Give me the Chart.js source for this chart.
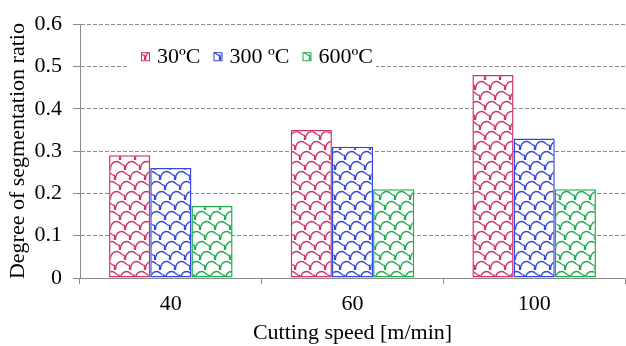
<!DOCTYPE html>
<html>
<head>
<meta charset="utf-8">
<script src="https://cdn.jsdelivr.net/npm/chart.js@4.4.1/dist/chart.umd.min.js"></script>
<style>
  html, body { margin: 0; padding: 0; background: #fff; }
  #chart { display: block; }
</style>
</head>
<body>
<canvas id="chart" width="626" height="346"></canvas>
<script>
// values
const speeds = ['40', '60', '100'];
const series = ['30ºC', '300 ºC', '600ºC'];
const t30 = [0.29, 0.35, 0.48];
const t300 = [0.26, 0.31, 0.33];
const t600 = [0.17, 0.21, 0.21];
const colors = ['#d0336e', '#3448e0', '#1fae4f'];

const FONT = "'Liberation Serif', 'DejaVu Serif', serif";

// shingle-like hatch used by the bars, rows step sideways, white ground
function shingle(color) {
    const W = 15, H = 10, ROWS = 3, STEP = 5;
    const c = document.createElement('canvas');
    c.width = W;
    c.height = H * ROWS;
    const g = c.getContext('2d');
    g.fillStyle = '#fff';
    g.fillRect(0, 0, c.width, c.height);
    g.strokeStyle = color;
    g.lineWidth = 1.3;
    function piece(x0, y0) {
        g.moveTo(x0 + 0.5, y0 + 10);
        g.bezierCurveTo(x0 + 0.5, y0 + 4, x0 + 3, y0 + 1.5, x0 + 7, y0 + 1.5);
        g.bezierCurveTo(x0 + 10, y0 + 1.5, x0 + 11.5, y0 + 5.5, x0 + 14.5, y0 + 5.5);
        g.lineTo(x0 + 14.5, y0 + 10);
    }
    g.beginPath();
    for (let r = 0; r < ROWS; r++) {
        const sx = (r * STEP) % W;
        piece(sx - W, r * H);
        piece(sx, r * H);
    }
    g.stroke();
    return g.createPattern(c, 'repeat');
}

function ds(label, data, i) {
    return {
        label: label,
        data: data,
        backgroundColor: shingle(colors[i]),
        borderColor: colors[i],
        borderWidth: 1.5,
        borderSkipped: false,
        categoryPercentage: 0.68,
        barPercentage: 1.0
    };
}

// legend sits inside the plot on a white box
const boxLegend = {
    id: 'boxLegend',
    afterDraw(chart) {
        const ctx = chart.ctx;
        const a = chart.chartArea;
        ctx.save();
        ctx.fillStyle = '#fff';
        ctx.fillRect(a.left + 47, a.top + 17, 249, 31);
        ctx.font = '22px ' + FONT;
        ctx.textBaseline = 'middle';
        let x = a.left + 61;
        const y = a.top + 32;
        chart.data.datasets.forEach(function (d) {
            ctx.fillStyle = d.backgroundColor;
            ctx.fillRect(x, y - 4, 8, 8);
            ctx.strokeStyle = d.borderColor;
            ctx.lineWidth = 1;
            ctx.strokeRect(x + 0.5, y - 3.5, 8, 8);
            x += 16;
            ctx.fillStyle = '#000';
            ctx.fillText(d.label, x, y + 1);
            x += ctx.measureText(d.label).width + 13;
        });
        ctx.restore();
    }
};

new Chart(document.getElementById('chart').getContext('2d'), {
    type: 'bar',
    data: {
        labels: speeds,
        datasets: [ds(series[0], t30, 0), ds(series[1], t300, 1), ds(series[2], t600, 2)]
    },
    options: {
        responsive: false,
        animation: false,
        layout: {
            padding: { top: 19, right: 1, left: 0, bottom: 0 }
        },
        scales: {
            x: {
                afterFit: function (s) { s.height = 68; },
                grid: {
                    offset: true,
                    drawOnChartArea: false,
                    tickLength: 6,
                    color: '#8a8a8a'
                },
                border: { color: '#8a8a8a', width: 1 },
                ticks: {
                    padding: 7,
                    color: '#000',
                    font: { family: FONT, size: 22 }
                },
                title: {
                    display: true,
                    text: 'Cutting speed [m/min]',
                    color: '#000',
                    padding: { top: 0, bottom: 0 },
                    font: { family: FONT, size: 22 }
                }
            },
            y: {
                min: 0,
                max: 0.6,
                afterFit: function (s) { s.width = 80; },
                grid: {
                    color: '#8a8a8a',
                    tickLength: 7,
                    tickBorderDash: [],
                    tickColor: '#8a8a8a'
                },
                border: { color: '#8a8a8a', width: 1, dash: [4, 2] },
                ticks: {
                    stepSize: 0.1,
                    padding: 11,
                    color: '#000',
                    font: { family: FONT, size: 22 }
                },
                title: {
                    display: true,
                    text: 'Degree of segmentation ratio',
                    color: '#000',
                    padding: { top: 5, bottom: 0 },
                    font: { family: FONT, size: 22 }
                }
            }
        },
        plugins: {
            legend: { display: false },
            tooltip: { enabled: false }
        }
    },
    plugins: [boxLegend]
});
</script>
</body>
</html>
